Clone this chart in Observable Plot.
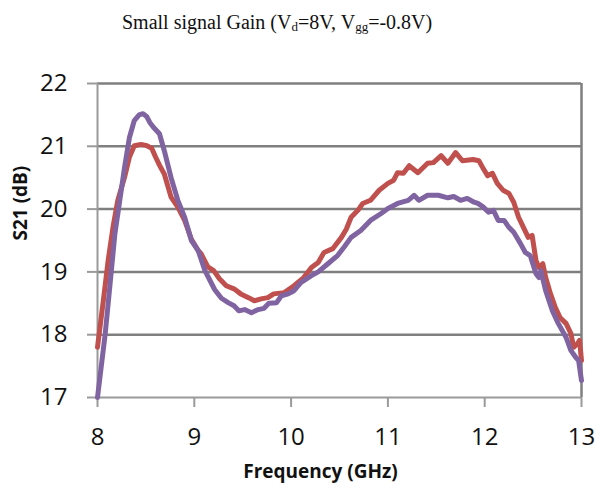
<!DOCTYPE html>
<html>
<head>
<meta charset="utf-8">
<script src="https://cdn.jsdelivr.net/npm/d3@7"></script>
<script src="https://cdn.jsdelivr.net/npm/@observablehq/plot@0.6"></script>
<style>
  html, body { margin: 0; padding: 0; background: white; }
  #wrap { width: 597px; height: 486px; position: relative; }
  #title { height: 50px; position: relative; }
  #title span.t { position: absolute; left: 122px; top: 12px; font-family: "Liberation Serif", "Times New Roman", serif; font-size: 20px; line-height: 1; color: #111; white-space: nowrap; }
  #title sub { font-size: 13px; vertical-align: -2px; line-height: 0; }
</style>
</head>
<body>
<div id="wrap">
  <div id="title"><span class="t">Small signal Gain (V<sub>d</sub>=8V, V<sub>gg</sub>=-0.8V)</span></div>
  <div id="chart"></div>
</div>
<script>
const xTicks = [8, 9, 10, 11, 12, 13];
const yTicks = [17, 18, 19, 20, 21, 22];
const xLabel = "Frequency (GHz)";
const yLabel = "S21 (dB)";

const redFreq = [8.00, 8.06, 8.11, 8.16, 8.21, 8.28, 8.33, 8.38, 8.45, 8.51, 8.56, 8.60, 8.64, 8.69, 8.76, 8.83, 8.90, 8.97, 9.04, 9.07, 9.14, 9.20, 9.26, 9.33, 9.41, 9.48, 9.56, 9.62, 9.69, 9.76, 9.82, 9.93, 10.03, 10.13, 10.21, 10.28, 10.34, 10.43, 10.52, 10.57, 10.62, 10.69, 10.74, 10.82, 10.91, 11.00, 11.06, 11.10, 11.16, 11.22, 11.31, 11.41, 11.47, 11.55, 11.62, 11.70, 11.77, 11.88, 11.94, 11.98, 12.03, 12.08, 12.13, 12.19, 12.25, 12.30, 12.35, 12.40, 12.45, 12.49, 12.53, 12.56, 12.60, 12.63, 12.68, 12.73, 12.78, 12.84, 12.89, 12.92, 12.96, 12.98, 13.00];
const redGain = [17.80, 18.54, 19.18, 19.71, 20.14, 20.51, 20.83, 21.01, 21.03, 21.01, 20.97, 20.83, 20.70, 20.56, 20.19, 20.03, 19.82, 19.52, 19.34, 19.29, 19.08, 19.02, 18.89, 18.78, 18.73, 18.65, 18.59, 18.54, 18.57, 18.59, 18.65, 18.67, 18.78, 18.91, 19.07, 19.15, 19.31, 19.37, 19.55, 19.68, 19.87, 19.98, 20.09, 20.14, 20.30, 20.41, 20.46, 20.58, 20.57, 20.69, 20.58, 20.73, 20.74, 20.85, 20.73, 20.90, 20.77, 20.79, 20.77, 20.66, 20.53, 20.57, 20.41, 20.30, 20.25, 20.11, 19.87, 19.71, 19.55, 19.58, 19.18, 19.07, 19.13, 18.91, 18.65, 18.43, 18.27, 18.18, 18.02, 17.80, 17.86, 17.91, 17.59];

const purpleFreq = [8.00, 8.08, 8.13, 8.18, 8.23, 8.28, 8.33, 8.38, 8.43, 8.47, 8.51, 8.54, 8.58, 8.64, 8.69, 8.76, 8.83, 8.90, 8.97, 9.04, 9.11, 9.21, 9.28, 9.35, 9.41, 9.46, 9.52, 9.59, 9.66, 9.72, 9.77, 9.85, 9.90, 9.97, 10.03, 10.10, 10.21, 10.28, 10.38, 10.48, 10.55, 10.62, 10.72, 10.82, 10.93, 11.00, 11.10, 11.21, 11.27, 11.32, 11.41, 11.52, 11.62, 11.68, 11.75, 11.82, 11.89, 11.93, 11.98, 12.04, 12.09, 12.14, 12.20, 12.25, 12.30, 12.37, 12.42, 12.47, 12.53, 12.56, 12.58, 12.63, 12.70, 12.76, 12.84, 12.89, 12.94, 12.97, 13.00];
const purpleGain = [17.00, 18.02, 18.81, 19.61, 20.14, 20.67, 21.14, 21.41, 21.50, 21.52, 21.47, 21.38, 21.30, 21.20, 20.93, 20.50, 20.14, 19.87, 19.50, 19.34, 19.02, 18.72, 18.58, 18.51, 18.46, 18.38, 18.40, 18.35, 18.40, 18.42, 18.50, 18.51, 18.62, 18.65, 18.70, 18.83, 18.94, 19.00, 19.13, 19.26, 19.40, 19.55, 19.66, 19.82, 19.93, 20.01, 20.09, 20.14, 20.22, 20.14, 20.22, 20.22, 20.18, 20.20, 20.14, 20.17, 20.11, 20.09, 20.04, 19.95, 19.98, 19.82, 19.82, 19.71, 19.63, 19.45, 19.31, 19.26, 18.97, 18.91, 19.02, 18.70, 18.38, 18.18, 17.96, 17.75, 17.64, 17.59, 17.27];

const red = redFreq.map((f, i) => ({f, g: redGain[i]}));
const purple = purpleFreq.map((f, i) => ({f, g: purpleGain[i]}));

const chart = Plot.plot({
  width: 597,
  height: 436,
  marginTop: 33,
  marginBottom: 89,
  marginLeft: 97,
  marginRight: 16,
  x: {domain: [8, 13]},
  y: {domain: [17, 22]},
  style: {fontFamily: "'Open Sans', sans-serif", fontSize: "24px", color: "#111", background: "white", overflow: "visible"},
  marks: [
    Plot.ruleY(yTicks.slice(1), {stroke: "#7f7f7f", strokeWidth: 2.5}),
    Plot.ruleX([13], {stroke: "#7f7f7f", strokeWidth: 2.5}),
    Plot.ruleX([8], {stroke: "#9a9a9a", strokeWidth: 2}),
    Plot.ruleY([17], {stroke: "#9a9a9a", strokeWidth: 2}),
    Plot.axisY({ticks: yTicks, tickFormat: d => String(d), tickSize: 10, tickPadding: 20, stroke: "#9a9a9a", strokeWidth: 2, fill: "#111", label: null}),
    Plot.axisX({ticks: xTicks, tickFormat: d => String(d), tickSize: 10, tickPadding: 20, stroke: "#9a9a9a", strokeWidth: 2, fill: "#111", label: null}),
    Plot.line(red, {x: "f", y: "g", stroke: "#C0504D", strokeWidth: 5, strokeLinejoin: "round", strokeLinecap: "round"}),
    Plot.line(purple, {x: "f", y: "g", stroke: "#8064A2", strokeWidth: 5, strokeLinejoin: "round", strokeLinecap: "round"}),
    Plot.text([xLabel], {frameAnchor: "bottom", text: d => d, dx: -19, dy: 74, fontWeight: "bold", fontSize: 19, fill: "#111", lineAnchor: "middle"}),
    Plot.text([yLabel], {frameAnchor: "left", text: d => d, dx: -77, dy: 0, rotate: -90, fontWeight: "bold", fontSize: 19, fill: "#111", lineAnchor: "middle"})
  ]
});
document.getElementById("chart").appendChild(chart);
</script>
</body>
</html>
